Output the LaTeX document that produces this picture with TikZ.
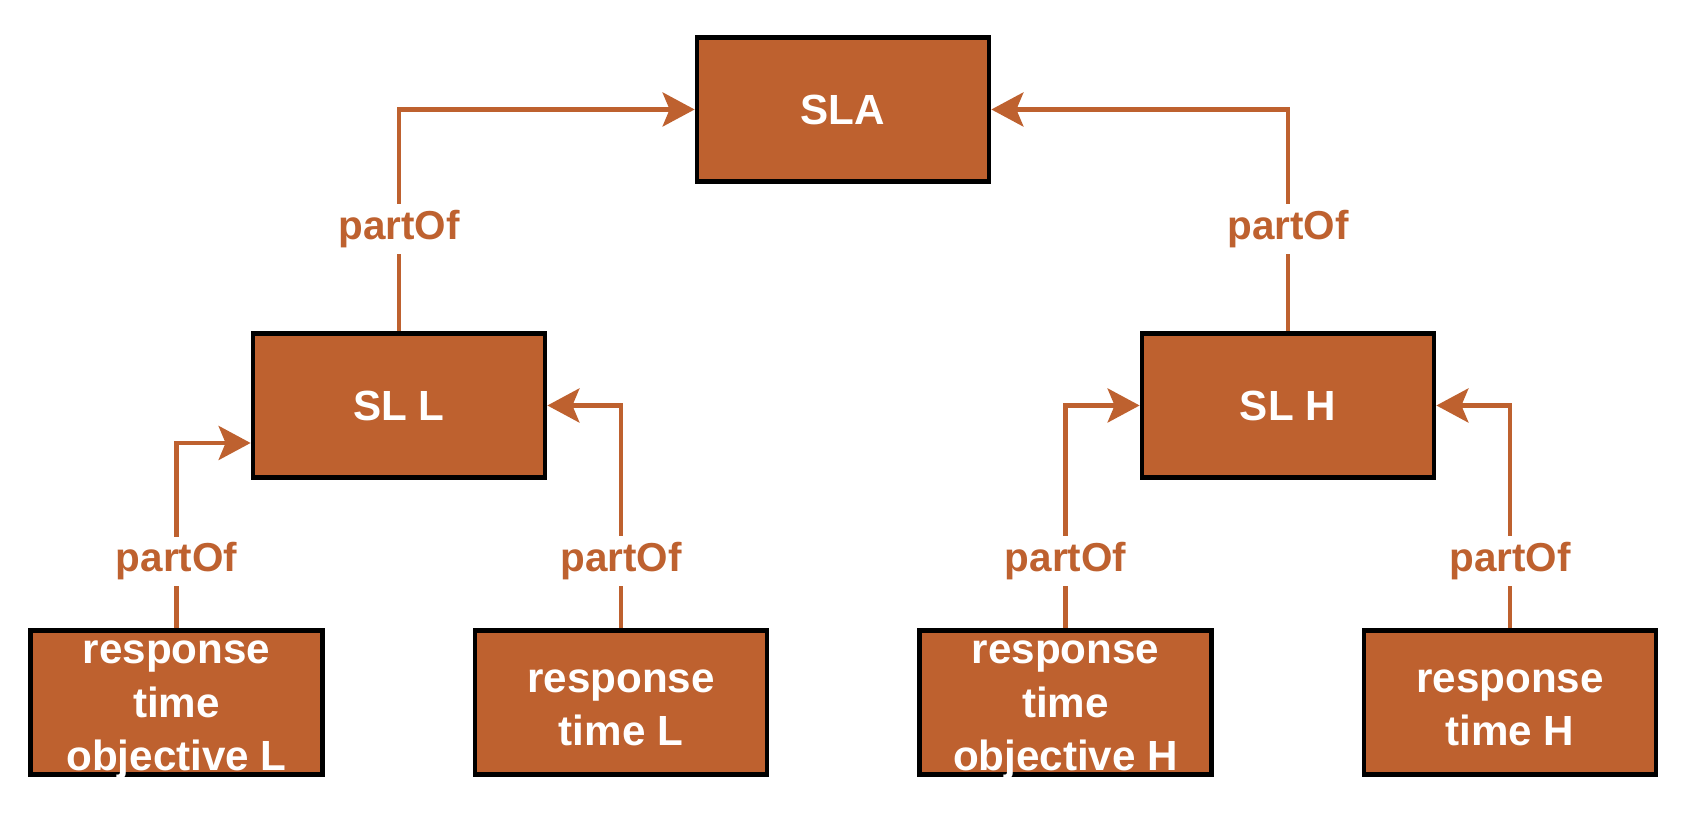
\documentclass[tikz,border=0pt]{standalone}
\usepackage{fontspec}
\setmainfont{Liberation Sans}
\usetikzlibrary{arrows.meta}
\definecolor{rust}{RGB}{190,97,47}

% lines of a box, lowered a little
\newcommand{\boxlines}[2][8.5pt]{\raisebox{-#1}[0pt][0pt]{\begin{tabular}{@{}c@{}}#2\end{tabular}}}

\tikzset{
	box/.style={draw=black, line width=0.095cm, fill=rust, text=white, align=center,
		minimum width=5.84cm, minimum height=2.88cm, inner sep=0pt,
		font=\fontsize{24}{30.5}\selectfont\bfseries},
	link/.style={draw=rust, line width=0.09cm,
		-{Stealth[length=0.64cm, width=0.68cm, inset=0.14cm, fill=rust]}},
	lbl/.style={fill=white, text=rust, inner sep=0.12cm,
		font=\fontsize{23}{27}\selectfont\bfseries}
}

\begin{document}
\begin{tikzpicture}
	\useasboundingbox (0,0) rectangle (33.7,16.32);

	\node[box] (sla) at (16.86,14.13) {SLA};
	\node[box] (sll) at (7.98,8.21) {SL L};
	\node[box] (slh) at (25.76,8.21) {SL H};

	\node[box] (rtol) at (3.53,2.27) {\boxlines{response\\time\\objective L}};
	\node[box] (rtl) at (12.42,2.27) {\boxlines[9.5pt]{response\\time L}};
	\node[box] (rtoh) at (21.31,2.27) {\boxlines{response\\time\\objective H}};
	\node[box] (rth) at (30.2,2.27) {\boxlines[9.5pt]{response\\time H}};

	\draw[link] (sll.north) |- node[lbl, pos=0.23]{partOf} (sla.west);
	\draw[link] (slh.north) |- node[lbl, pos=0.23]{partOf} (sla.east);

	\draw[link] (rtol.north) |- node[lbl, pos=0.18]{partOf} ([yshift=-0.75cm]sll.west);
	\draw[link] (rtl.north) |- node[lbl, pos=0.15]{partOf} (sll.east);
	\draw[link] (rtoh.north) |- node[lbl, pos=0.15]{partOf} (slh.west);
	\draw[link] (rth.north) |- node[lbl, pos=0.15]{partOf} (slh.east);
\end{tikzpicture}
\end{document}
